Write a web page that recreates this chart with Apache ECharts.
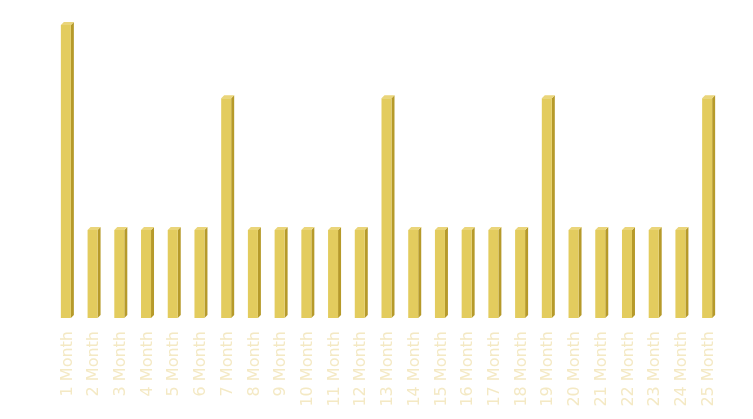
<!DOCTYPE html>
<html><head><meta charset="utf-8">
<script src="https://cdn.jsdelivr.net/npm/echarts@6/dist/echarts.min.js"></script>
<style>html,body{margin:0;padding:0;background:#fff}#c{width:753px;height:419px}</style>
</head><body><div id="c"></div>
<script>
var categories = ['1 Month','2 Month','3 Month','4 Month','5 Month','6 Month','7 Month','8 Month','9 Month','10 Month','11 Month','12 Month','13 Month','14 Month','15 Month','16 Month','17 Month','18 Month','19 Month','20 Month','21 Month','22 Month','23 Month','24 Month','25 Month'];
var values = [100,30,30,30,30,30,75,30,30,30,30,30,75,30,30,30,30,30,75,30,30,30,30,30,75];

var chart = echarts.init(document.getElementById('c'));
var FRONT_W = 10, DEPTH = 3;
chart.setOption({
  animation:false,
  grid:{left:54,right:31,top:25,bottom:101},
  xAxis:{type:'category',data:categories,
    axisLine:{show:false},axisTick:{show:false},
    axisLabel:{rotate:90,margin:13,color:'#F4E9C4',fontSize:16,fontFamily:'DejaVu Sans',interval:0}},
  yAxis:{type:'value',min:0,max:100,show:false,splitLine:{show:false}},
  series:[{
    type:'custom',
    data:values.map(function(v,i){return [i,v];}),
    renderItem:function(params,api){
      var top = api.coord([api.value(0),api.value(1)]);
      var bot = api.coord([api.value(0),0]);
      var cx = top[0];
      var x0 = cx - (FRONT_W+DEPTH)/2;
      var x1 = x0 + FRONT_W;
      var yt = top[1], yb = bot[1];
      return {type:'group',children:[
        {type:'polygon',shape:{points:[[x1,yt],[x1+DEPTH,yt-DEPTH],[x1+DEPTH,yb-DEPTH],[x1,yb]]},style:{fill:'#B69A2A'}},
        {type:'polygon',shape:{points:[[x0,yt],[x0+DEPTH,yt-DEPTH],[x1+DEPTH,yt-DEPTH],[x1,yt]]},style:{fill:'#EAD57A'}},
        {type:'rect',shape:{x:x0,y:yt,width:FRONT_W,height:yb-yt},style:{fill:'#E3CC5E'}}
      ]};
    }
  }]
});
</script></body></html>
